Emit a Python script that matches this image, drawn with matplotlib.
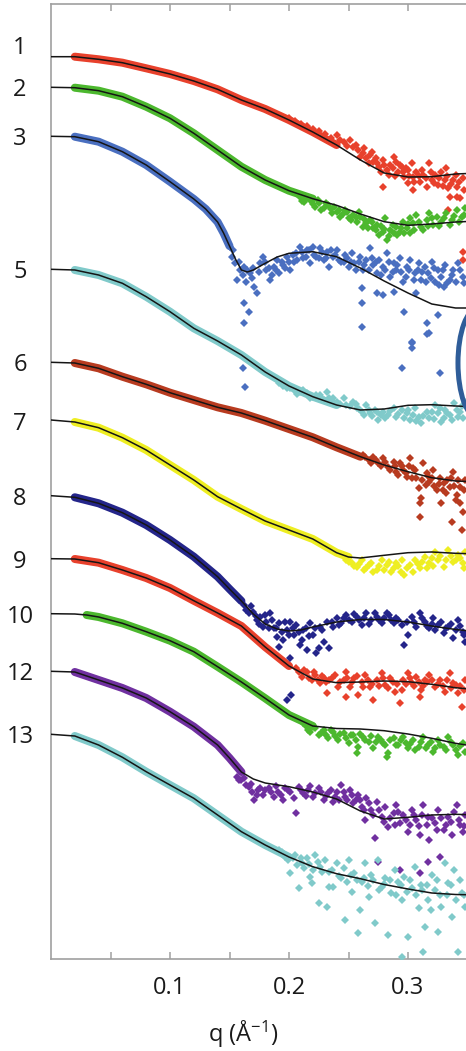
import numpy as np
import matplotlib
matplotlib.use('Agg')
import matplotlib.pyplot as plt
from matplotlib.patches import Ellipse

plt.rcParams['font.family'] = ['Open Sans', 'DejaVu Sans']
plt.rcParams['mathtext.fontset'] = 'custom'
plt.rcParams['mathtext.rm'] = 'Open Sans'
plt.rcParams['mathtext.default'] = 'regular'

# ---------------- data (y = stacked, offset log-intensity, arbitrary units, inverted axis) ----
CURVE_IDS = ['1', '2', '3', '5', '6', '7', '8', '9', '10', '12', '13']
COLORS = ['#e8412c', '#4cb82e', '#4a6fc0', '#80caca', '#b83b20', '#eeee22',
          '#24258a', '#e8412c', '#4cb82e', '#7030a0', '#80caca']
LABEL_Y = [45, 87.3, 136.3, 269.3, 362.3, 421, 495.7, 558.7, 613.7, 671.3, 734.3]

Q_GRID = [0, .02, .04, .06, .08, .10, .12, .14, .16, .18, .20, .22, .24, .26, .28, .30, .32, .34, .36]

F1_Y = [56.7, 56.7, 59.3, 62.7, 68.3, 74, 81, 89.3, 100, 109, 120, 132, 145, 160, 173, 177, 176.7, 174, 173]
F2_Y = [87.3, 87.7, 90.7, 96.7, 106.7, 118.3, 133.3, 150, 166.7, 180, 190.7, 198.7, 205.3, 214, 221.7, 225.3, 224, 222, 221]
F3_Q = [0, .02, .04, .06, .08, .10, .12, .13, .14, .145, .15, .155, .16, .165, .17, .18, .19, .20, .22, .24, .26, .28, .30, .32, .34, .36]
F3_Y = [136.3, 136.7, 141.7, 151.7, 165, 181.7, 199, 209, 222, 233, 246, 259, 270, 272, 270, 263.3, 257, 253.3, 251.7, 256.7, 268, 281, 293, 304, 308, 308]
F5_Y = [269.3, 270, 275, 283.3, 296.7, 311.7, 328.3, 341, 355, 372, 386, 396.7, 405, 410, 409, 405.3, 404.7, 406, 407]
F6_Y = [362.3, 363, 368.3, 376.7, 384.3, 392.7, 400, 407.3, 413, 420.7, 429, 437.3, 447.3, 456.7, 465, 471.7, 477.7, 481, 482]
F7_Q = [0, .02, .04, .06, .08, .10, .12, .14, .16, .18, .20, .22, .24, .25, .26, .28, .30, .32, .34, .36]
F7_Y = [420, 422, 427.7, 437.7, 450, 465, 480, 496.7, 509, 521, 530, 539, 552.7, 557, 558, 555.3, 552.7, 552, 553.3, 554]
F8_Q = [0, .02, .04, .06, .08, .10, .12, .14, .15, .16, .17, .18, .19, .20, .21, .22, .24, .26, .28, .30, .32, .34, .36]
F8_Y = [495.7, 497.3, 503.3, 512.7, 525, 540, 556.7, 576.7, 589, 601, 614, 624, 629, 631, 630, 627, 622, 619.5, 619.5, 622, 626, 629.5, 632]
F9_Y = [558.7, 559, 562.7, 570, 578, 588, 600.7, 613, 626, 647, 666, 679, 682.7, 682, 681, 681.7, 684.3, 687.7, 690]
F10_Q = [0, .02, .03, .04, .06, .08, .10, .12, .14, .16, .18, .20, .22, .24, .26, .28, .30, .32, .34, .36]
F10_Y = [613.7, 614, 615, 617, 623.3, 631.7, 640.7, 651.7, 666.7, 682, 698.3, 715, 726, 728.5, 729, 730.7, 734, 738.3, 743.3, 747]
F12_Q = [0, .02, .04, .06, .08, .10, .12, .14, .15, .16, .17, .18, .20, .22, .24, .26, .28, .30, .32, .34, .36]
F12_Y = [671.3, 672, 680, 688, 698, 711.7, 726.7, 745, 758, 772, 779, 783, 786.7, 792, 799, 811, 819, 817.3, 815, 814.3, 815]
F13_Y = [734.3, 736, 745, 757.3, 771.7, 785, 798.3, 815, 831.7, 845, 857, 866.7, 873.7, 878.7, 884.5, 889, 893, 894.5, 895]

# q-range of the smooth (dense) part of each measured curve
BAND_START = [.02, .02, .02, .02, .02, .02, .02, .02, .03, .02, .02]
BAND_END = [.24, .22, .15, .24, .26, .25, .16, .20, .22, .16, .20]

# noisy high-q measured points (q, y)
S1 = [(0.200, 118), (0.205, 121), (0.210, 124), (0.215, 126), (0.220, 129), (0.225, 131), (0.230, 134), (0.235, 138),
      (0.240, 135), (0.246, 142), (0.251, 140), (0.254, 147), (0.258, 150), (0.262, 153), (0.265, 158), (0.268, 155),
      (0.271, 162), (0.274, 163), (0.276, 167), (0.279, 160), (0.282, 170), (0.285, 165), (0.288, 157), (0.290, 162),
      (0.292, 172), (0.295, 167), (0.297, 177), (0.300, 170), (0.303, 163), (0.304, 177), (0.307, 172), (0.310, 182),
      (0.313, 175), (0.316, 187), (0.318, 163), (0.320, 180), (0.323, 175), (0.325, 185), (0.328, 172), (0.331, 180),
      (0.334, 188), (0.335, 197), (0.338, 180), (0.341, 187), (0.344, 198), (0.346, 178), (0.279, 187), (0.304, 190),
      (0.346, 252), (0.346, 260), (0.334, 210), (0.341, 197),
      (0.243, 140), (0.249, 146), (0.256, 145), (0.260, 157), (0.263, 148), (0.267, 163), (0.270, 152), (0.273, 158),
      (0.277, 172), (0.280, 165), (0.284, 175), (0.287, 168), (0.289, 176), (0.293, 165), (0.296, 172), (0.298, 168),
      (0.301, 176), (0.305, 182), (0.309, 176), (0.312, 170), (0.315, 178), (0.319, 172), (0.322, 183), (0.326, 178),
      (0.329, 186), (0.333, 176), (0.336, 184), (0.340, 175), (0.343, 182), (0.347, 190), (0.332, 168), (0.300, 183)]
S2 = [(0.209, 197), (0.213, 202), (0.218, 200), (0.222, 207), (0.225, 203), (0.229, 208), (0.233, 205), (0.236, 213),
      (0.240, 212), (0.243, 217), (0.247, 210), (0.250, 218), (0.254, 215), (0.257, 222), (0.260, 217), (0.262, 227),
      (0.265, 223), (0.268, 220), (0.271, 228), (0.274, 225), (0.276, 235), (0.279, 232), (0.282, 240), (0.285, 230),
      (0.288, 233), (0.290, 227), (0.293, 232), (0.296, 222), (0.299, 228), (0.302, 218), (0.304, 223), (0.307, 215),
      (0.311, 227), (0.316, 220), (0.318, 213), (0.321, 225), (0.324, 217), (0.328, 222), (0.332, 213), (0.337, 220),
      (0.341, 210), (0.345, 217), (0.348, 208), (0.281, 218), (0.302, 233),
      (0.211, 201), (0.216, 198), (0.220, 204), (0.224, 200), (0.227, 210), (0.231, 203), (0.235, 209), (0.238, 207),
      (0.242, 210), (0.245, 214), (0.249, 212), (0.252, 220), (0.256, 217), (0.259, 212), (0.263, 219), (0.266, 228),
      (0.270, 222), (0.273, 230), (0.277, 226), (0.280, 229), (0.284, 236), (0.287, 225), (0.291, 235), (0.294, 228),
      (0.297, 233), (0.300, 224), (0.305, 230), (0.309, 222), (0.313, 230), (0.317, 226), (0.320, 218), (0.326, 226),
      (0.330, 218), (0.335, 225), (0.339, 216), (0.343, 222), (0.347, 215)]
S3 = [(0.150, 247), (0.152, 257), (0.155, 263), (0.156, 280), (0.159, 270), (0.162, 267), (0.164, 282), (0.167, 273),
      (0.170, 268), (0.171, 287), (0.173, 293), (0.176, 263), (0.178, 257), (0.181, 270), (0.184, 280), (0.187, 267),
      (0.190, 260), (0.192, 273), (0.195, 265), (0.198, 257), (0.201, 270), (0.204, 262), (0.206, 253), (0.209, 247),
      (0.212, 258), (0.215, 250), (0.218, 263), (0.220, 247), (0.223, 257), (0.226, 248), (0.229, 260), (0.232, 252),
      (0.234, 267), (0.237, 257), (0.240, 250), (0.244, 262), (0.247, 255), (0.250, 267), (0.253, 253), (0.255, 263),
      (0.260, 257), (0.262, 270), (0.265, 260), (0.268, 248), (0.271, 265), (0.274, 273), (0.276, 260), (0.279, 267),
      (0.282, 253), (0.285, 277), (0.288, 263), (0.290, 270), (0.293, 258), (0.296, 282), (0.299, 267), (0.302, 260),
      (0.306, 273), (0.309, 263), (0.311, 280), (0.314, 267), (0.317, 273), (0.320, 262), (0.323, 282), (0.325, 270),
      (0.328, 277), (0.331, 265), (0.335, 280), (0.338, 270), (0.342, 263), (0.346, 277),
      (0.162, 303), (0.166, 312), (0.162, 323), (0.261, 288), (0.261, 303), (0.261, 327), (0.274, 293), (0.297, 312),
      (0.303, 343), (0.316, 323), (0.318, 333), (0.325, 315), (0.330, 287), (0.307, 293), (0.279, 295), (0.288, 292),
      (0.161, 368), (0.163, 387), (0.295, 368), (0.303, 342), (0.303, 348), (0.316, 334), (0.327, 373),
      (0.153, 250), (0.158, 262), (0.161, 275), (0.165, 270), (0.169, 278), (0.175, 272), (0.180, 262), (0.183, 268),
      (0.186, 275), (0.189, 270), (0.194, 262), (0.197, 268), (0.200, 262), (0.203, 255), (0.207, 260), (0.211, 252),
      (0.214, 257), (0.217, 250), (0.221, 255), (0.225, 258), (0.228, 252), (0.231, 258), (0.235, 250), (0.239, 255),
      (0.242, 260), (0.246, 262), (0.249, 258), (0.252, 262), (0.256, 270), (0.259, 262), (0.263, 265), (0.267, 270),
      (0.270, 258), (0.273, 262), (0.277, 275), (0.281, 270), (0.284, 262), (0.287, 272), (0.291, 265), (0.294, 272),
      (0.298, 277), (0.301, 270), (0.305, 280), (0.308, 270), (0.312, 272), (0.315, 282), (0.319, 278), (0.322, 268),
      (0.326, 285), (0.329, 270), (0.333, 283), (0.337, 275), (0.340, 282), (0.344, 270), (0.347, 283)]
S5 = [(0.192, 383), (0.198, 388), (0.204, 390), (0.209, 392), (0.215, 393), (0.220, 397), (0.226, 395), (0.232, 392),
      (0.234, 398), (0.240, 402), (0.246, 398), (0.248, 405), (0.254, 402), (0.257, 408), (0.261, 412), (0.265, 405),
      (0.268, 413), (0.272, 410), (0.275, 420), (0.279, 412), (0.283, 415), (0.288, 408), (0.290, 417), (0.295, 410),
      (0.299, 413), (0.302, 420), (0.306, 408), (0.309, 417), (0.311, 423), (0.316, 412), (0.318, 418), (0.323, 405),
      (0.325, 413), (0.328, 422), (0.331, 410), (0.335, 415), (0.339, 403), (0.344, 412), (0.348, 402), (0.346, 418),
      (0.195, 386), (0.201, 388), (0.207, 394), (0.212, 390), (0.218, 398), (0.223, 395), (0.229, 400), (0.237, 398),
      (0.243, 404), (0.251, 406), (0.256, 404), (0.259, 409), (0.263, 415), (0.267, 410), (0.270, 416), (0.274, 412),
      (0.277, 415), (0.281, 418), (0.285, 411), (0.292, 414), (0.297, 418), (0.300, 410), (0.304, 415), (0.307, 421),
      (0.313, 416), (0.320, 412), (0.322, 419), (0.327, 408), (0.330, 418), (0.333, 413), (0.337, 420), (0.341, 410),
      (0.345, 406), (0.342, 417)]
S6 = [(0.262, 455), (0.267, 460), (0.271, 457), (0.275, 463), (0.279, 458), (0.283, 467), (0.288, 462), (0.290, 472),
      (0.293, 463), (0.296, 470), (0.299, 477), (0.302, 458), (0.304, 468), (0.307, 478), (0.309, 488), (0.310, 503),
      (0.311, 498), (0.310, 517), (0.313, 463), (0.316, 473), (0.318, 482), (0.321, 470), (0.324, 490), (0.327, 478),
      (0.328, 503), (0.330, 483), (0.332, 493), (0.335, 487), (0.337, 522), (0.338, 472), (0.341, 495), (0.344, 487),
      (0.345, 530), (0.346, 512), (0.348, 480), (0.344, 503),
      (0.264, 457), (0.269, 463), (0.273, 460), (0.277, 466), (0.281, 462), (0.285, 470), (0.289, 466), (0.292, 475),
      (0.295, 466), (0.298, 473), (0.301, 466), (0.303, 478), (0.306, 470), (0.312, 480), (0.315, 485), (0.317, 476),
      (0.320, 478), (0.322, 486), (0.326, 484), (0.329, 490), (0.333, 480), (0.336, 478), (0.339, 486), (0.342, 480),
      (0.347, 490), (0.340, 500)]
S7 = [(0.248, 560), (0.253, 563), (0.257, 567), (0.261, 560), (0.265, 568), (0.269, 563), (0.274, 570), (0.278, 560),
      (0.282, 565), (0.286, 572), (0.290, 563), (0.295, 560), (0.297, 575), (0.302, 565), (0.306, 560), (0.310, 568),
      (0.314, 557), (0.318, 563), (0.323, 552), (0.325, 560), (0.330, 567), (0.334, 550), (0.338, 562), (0.342, 555),
      (0.346, 563), (0.348, 552),
      (0.250, 562), (0.255, 566), (0.259, 564), (0.263, 570), (0.267, 565), (0.271, 572), (0.276, 566), (0.280, 570),
      (0.284, 562), (0.288, 568), (0.292, 566), (0.294, 572), (0.299, 568), (0.304, 572), (0.308, 564), (0.312, 562),
      (0.316, 568), (0.320, 558), (0.321, 566), (0.327, 556), (0.332, 560), (0.336, 556), (0.340, 560), (0.344, 558),
      (0.347, 568)]
S8 = [(0.162, 605), (0.166, 613), (0.170, 612), (0.173, 620), (0.176, 617), (0.178, 627), (0.181, 622), (0.184, 613),
      (0.187, 628), (0.190, 637), (0.192, 623), (0.195, 640), (0.198, 630), (0.201, 622), (0.204, 635), (0.206, 625),
      (0.209, 645), (0.212, 630), (0.215, 650), (0.218, 623), (0.220, 635), (0.223, 653), (0.226, 627), (0.229, 642),
      (0.232, 622), (0.234, 648), (0.237, 627), (0.240, 618), (0.244, 623), (0.248, 615), (0.253, 622), (0.257, 617),
      (0.261, 625), (0.265, 613), (0.269, 620), (0.274, 617), (0.278, 623), (0.282, 613), (0.286, 620), (0.290, 618),
      (0.295, 625), (0.297, 645), (0.300, 635), (0.303, 617), (0.307, 627), (0.310, 613), (0.314, 622), (0.318, 628),
      (0.321, 618), (0.325, 625), (0.330, 633), (0.334, 627), (0.338, 638), (0.342, 620), (0.346, 632), (0.348, 642),
      (0.192, 647), (0.201, 658), (0.225, 648), (0.198, 700), (0.202, 695),
      (0.164, 610), (0.168, 606), (0.172, 616), (0.175, 624), (0.180, 615), (0.183, 628), (0.186, 620), (0.189, 628),
      (0.194, 632), (0.197, 622), (0.200, 635), (0.203, 628), (0.208, 632), (0.211, 640), (0.214, 628), (0.217, 636),
      (0.222, 628), (0.228, 630), (0.236, 622), (0.242, 625), (0.246, 618), (0.250, 620), (0.255, 614), (0.259, 620),
      (0.263, 618), (0.267, 624), (0.272, 613), (0.276, 620), (0.280, 618), (0.284, 615), (0.288, 623), (0.292, 620),
      (0.299, 622), (0.305, 622), (0.312, 618), (0.316, 626), (0.320, 624), (0.323, 630), (0.328, 622), (0.332, 628),
      (0.336, 624), (0.340, 630), (0.344, 626), (0.347, 635)]
S9 = [(0.206, 668), (0.211, 677), (0.215, 672), (0.219, 680), (0.222, 675), (0.226, 683), (0.229, 678), (0.232, 693),
      (0.234, 680), (0.239, 675), (0.241, 687), (0.246, 680), (0.248, 672), (0.251, 687), (0.255, 678), (0.258, 695),
      (0.261, 682), (0.264, 675), (0.268, 687), (0.271, 700), (0.274, 680), (0.278, 673), (0.281, 685), (0.285, 678),
      (0.289, 692), (0.293, 703), (0.296, 680), (0.300, 673), (0.303, 683), (0.307, 677), (0.311, 690), (0.314, 680),
      (0.318, 675), (0.323, 687), (0.327, 680), (0.331, 692), (0.335, 673), (0.338, 683), (0.342, 693), (0.345, 707),
      (0.348, 680), (0.248, 697), (0.310, 697),
      (0.208, 672), (0.213, 670), (0.217, 678), (0.221, 672), (0.224, 680), (0.228, 676), (0.231, 682), (0.236, 678),
      (0.243, 682), (0.249, 678), (0.253, 682), (0.257, 676), (0.262, 687), (0.266, 680), (0.270, 684), (0.276, 686),
      (0.279, 678), (0.283, 688), (0.287, 682), (0.291, 684), (0.295, 690), (0.298, 684), (0.302, 678), (0.305, 686),
      (0.309, 682), (0.313, 686), (0.316, 682), (0.320, 680), (0.325, 684), (0.329, 686), (0.333, 680), (0.336, 688),
      (0.340, 685), (0.344, 686), (0.347, 690)]
S10 = [(0.212, 723), (0.216, 730), (0.220, 727), (0.225, 735), (0.229, 730), (0.233, 738), (0.237, 732), (0.241, 740),
       (0.246, 733), (0.250, 743), (0.254, 735), (0.258, 747), (0.262, 737), (0.267, 742), (0.271, 748), (0.275, 737),
       (0.279, 743), (0.283, 753), (0.288, 738), (0.292, 745), (0.296, 737), (0.300, 748), (0.304, 740), (0.309, 747),
       (0.313, 737), (0.317, 745), (0.321, 752), (0.325, 740), (0.330, 747), (0.334, 737), (0.338, 745), (0.342, 755),
       (0.346, 743), (0.257, 753), (0.282, 757),
       (0.214, 726), (0.218, 732), (0.222, 728), (0.227, 733), (0.231, 735), (0.235, 730), (0.239, 736), (0.243, 734),
       (0.248, 738), (0.252, 735), (0.256, 740), (0.260, 734), (0.264, 740), (0.269, 736), (0.273, 742), (0.277, 740),
       (0.281, 745), (0.285, 740), (0.290, 745), (0.294, 740), (0.298, 743), (0.302, 744), (0.306, 750), (0.311, 742),
       (0.315, 748), (0.319, 742), (0.323, 748), (0.327, 745), (0.332, 750), (0.336, 742), (0.340, 750), (0.344, 746),
       (0.348, 752)]
S12 = [(0.156, 777), (0.160, 780), (0.164, 785), (0.169, 792), (0.171, 800), (0.174, 790), (0.178, 795), (0.183, 788),
       (0.187, 797), (0.191, 792), (0.195, 800), (0.199, 790), (0.204, 798), (0.206, 813), (0.208, 787), (0.212, 793),
       (0.216, 790), (0.220, 797), (0.225, 788), (0.229, 800), (0.233, 793), (0.237, 802), (0.240, 792), (0.244, 785),
       (0.247, 797), (0.251, 790), (0.254, 803), (0.258, 795), (0.261, 807), (0.264, 820), (0.265, 798), (0.269, 810),
       (0.272, 838), (0.274, 802), (0.278, 817), (0.281, 807), (0.283, 827), (0.288, 813), (0.290, 805), (0.293, 823),
       (0.296, 815), (0.300, 832), (0.303, 810), (0.307, 820), (0.310, 835), (0.313, 805), (0.317, 817), (0.318, 840),
       (0.323, 823), (0.325, 810), (0.330, 830), (0.334, 817), (0.337, 835), (0.341, 805), (0.344, 825), (0.346, 832),
       (0.348, 815), (0.275, 862), (0.293, 870), (0.310, 873), (0.317, 862), (0.327, 857),
       (0.158, 780), (0.162, 778), (0.166, 787), (0.168, 784), (0.173, 795), (0.176, 788), (0.180, 790), (0.185, 792),
       (0.189, 786), (0.193, 795), (0.197, 788), (0.201, 792), (0.210, 790), (0.214, 796), (0.218, 786), (0.222, 793),
       (0.227, 792), (0.231, 796), (0.235, 790), (0.239, 797), (0.242, 800), (0.246, 792), (0.249, 800), (0.253, 795),
       (0.256, 800), (0.260, 800), (0.263, 810), (0.267, 803), (0.271, 815), (0.276, 810), (0.280, 822), (0.285, 818),
       (0.289, 825), (0.292, 812), (0.298, 820), (0.302, 825), (0.305, 815), (0.309, 826), (0.312, 815), (0.316, 825),
       (0.320, 818), (0.324, 830), (0.328, 818), (0.332, 825), (0.336, 822), (0.339, 812), (0.343, 820), (0.347, 826)]
S13 = [(0.192, 850), (0.197, 857), (0.201, 873), (0.205, 855), (0.208, 888), (0.211, 863), (0.215, 858), (0.218, 877),
       (0.222, 855), (0.225, 903), (0.226, 867), (0.230, 860), (0.232, 907), (0.234, 872), (0.237, 887), (0.240, 863),
       (0.244, 878), (0.247, 920), (0.250, 860), (0.253, 892), (0.255, 873), (0.258, 933), (0.261, 882), (0.264, 863),
       (0.267, 897), (0.269, 875), (0.272, 923), (0.275, 860), (0.278, 887), (0.281, 878), (0.283, 935), (0.286, 893),
       (0.289, 870), (0.292, 882), (0.295, 900), (0.297, 877), (0.300, 937), (0.303, 888), (0.306, 867), (0.309, 908),
       (0.311, 885), (0.314, 927), (0.317, 900), (0.320, 875), (0.323, 890), (0.325, 932), (0.328, 907), (0.331, 863),
       (0.334, 883), (0.337, 917), (0.339, 870), (0.342, 952), (0.345, 893), (0.348, 907), (0.313, 952), (0.295, 957),
       (0.260, 910), (0.234, 887), (0.219, 883),
       (0.194, 852), (0.199, 860), (0.203, 858), (0.207, 865), (0.210, 858), (0.213, 868), (0.217, 864), (0.220, 870),
       (0.224, 862), (0.228, 872), (0.236, 870), (0.242, 876), (0.246, 868), (0.249, 882), (0.252, 875), (0.257, 880),
       (0.263, 878), (0.266, 886), (0.271, 880), (0.276, 890), (0.280, 884), (0.285, 880), (0.290, 895), (0.294, 885),
       (0.299, 892), (0.302, 880), (0.307, 895), (0.312, 890), (0.316, 885), (0.319, 910), (0.324, 880), (0.327, 895),
       (0.333, 895), (0.336, 885), (0.340, 900), (0.344, 880), (0.347, 895)]

FITS = [(Q_GRID, F1_Y), (Q_GRID, F2_Y), (F3_Q, F3_Y), (Q_GRID, F5_Y), (Q_GRID, F6_Y), (F7_Q, F7_Y),
        (F8_Q, F8_Y), (Q_GRID, F9_Y), (F10_Q, F10_Y), (F12_Q, F12_Y), (Q_GRID, F13_Y)]
SCATTER = [S1, S2, S3, S5, S6, S7, S8, S9, S10, S12, S13]

X_TICKS = [0.05, 0.10, 0.15, 0.20, 0.25, 0.30]
X_TICKLABELS = ['', '0.1', '', '0.2', '', '0.3']

# ---------------- figure ----------------
W, H = 466, 1051
fig = plt.figure(figsize=(W / 100, H / 100), dpi=100)
ax = fig.add_axes([51 / W, 92 / H, 1 - 51 / W, 955 / H])

for (fq, fy), pts, col, b0, b1 in zip(FITS, SCATTER, COLORS, BAND_START, BAND_END):
    fq = np.asarray(fq, float)
    fy = np.asarray(fy, float)
    m = (fq >= b0 - 1e-9) & (fq <= b1 + 1e-9)
    ax.plot(fq[m], fy[m], color=col, lw=5.8, solid_capstyle='round', solid_joinstyle='round', zorder=2)
    p = np.asarray(pts, float)
    ax.plot(p[:, 0], p[:, 1], ls='none', marker='D', ms=3.7, mew=0, color=col, zorder=3)

for (fq, fy) in FITS:
    ax.plot(fq, fy, color='#151515', lw=1.1, zorder=4, solid_joinstyle='round')

ell = Ellipse((0.3588, 363), width=0.0336, height=110, fill=False, ec='#2f5d99', lw=3.6, zorder=5,
              clip_on=False)
ax.add_patch(ell)

ax.set_xlim(0, 415 / 1190)
ax.set_ylim(959, 4)

ax.set_xticks(X_TICKS)
ax.set_xticklabels(X_TICKLABELS)
ax.set_yticks(LABEL_Y)
ax.set_yticklabels(CURVE_IDS, ha='center')

for s in ['left', 'top', 'bottom']:
    ax.spines[s].set_color('#a0a0a0')
    ax.spines[s].set_linewidth(1.2)
ax.spines['right'].set_visible(False)

ax.tick_params(axis='x', which='both', direction='in', length=5, width=1.1, color='#a0a0a0',
               top=True, pad=12.5, labelsize=17, labelcolor='#1a1a1a')
ax.tick_params(axis='y', length=0, pad=22.3, labelsize=17, labelcolor='#1a1a1a')

ax.set_xlabel('q (Å$^{-1}$)', fontsize=17, color='#1a1a1a')
ax.xaxis.set_label_coords((243 - 51) / (W - 51), -0.063)

fig.savefig('out.png', dpi=100)
